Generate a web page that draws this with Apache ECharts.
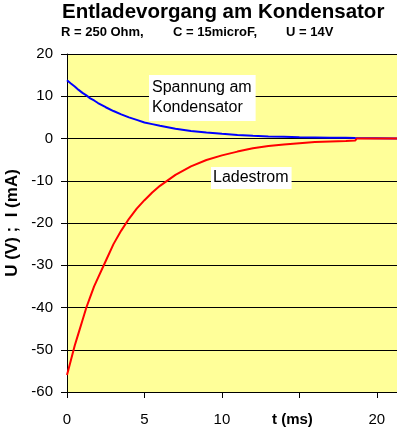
<!DOCTYPE html>
<html>
<head>
<meta charset="utf-8">
<style>
  html, body { margin: 0; padding: 0; background: #ffffff; }
  #chart { width: 397px; height: 433px; }
</style>
<script src="https://cdn.jsdelivr.net/npm/echarts@6/dist/echarts.min.js"></script>
</head>
<body>
<div id="chart"></div>
<script>
// Data
const times    = [0, 0.25, 0.5, 0.75, 1, 1.25, 1.5, 1.75, 2, 2.5, 3, 3.5, 4, 4.5, 5, 5.5, 6, 7, 8, 9, 10, 11, 12, 13, 14, 15, 16, 17, 18, 18.6, 18.7, 21.3];
const voltage  = [13.8, 13.0, 12.3, 11.5, 10.8, 10.2, 9.5, 9.0, 8.4, 7.4, 6.5, 5.7, 5.0, 4.4, 3.8, 3.4, 3.0, 2.3, 1.8, 1.4, 1.1, 0.85, 0.65, 0.5, 0.4, 0.3, 0.25, 0.2, 0.15, 0.1, 0, 0];
const current  = [-56, -52.5, -49, -46, -43, -40, -37.5, -35, -33, -29, -25, -21.8, -19, -16.6, -14.6, -12.8, -11.2, -8.6, -6.6, -5.1, -4.0, -3.1, -2.3, -1.8, -1.4, -1.1, -0.8, -0.7, -0.6, -0.5, 0, 0];
const xTicks   = [0, 5, 10, 15, 20];
const xTickLabels = ['0', '5', '10', 't (ms)', '20'];

const FONT = '"Liberation Sans", Arial, sans-serif';

const chart = echarts.init(document.getElementById('chart'), null, { renderer: 'canvas' });

const option = {
  backgroundColor: '#ffffff',
  animation: false,
  title: [
    {
      text: 'Spannung am\nKondensator',
      left: 149, top: 75,
      backgroundColor: '#ffffff',
      padding: [3, 4, 3, 3],
      textStyle: { fontFamily: FONT, fontSize: 16, fontWeight: 'normal', color: '#000', lineHeight: 20 }
    },
    {
      text: 'Ladestrom',
      left: 211, top: 167,
      backgroundColor: '#ffffff',
      padding: [1, 3, 1, 2],
      textStyle: { fontFamily: FONT, fontSize: 16, fontWeight: 'normal', color: '#000', lineHeight: 20 }
    }
  ],
  graphic: [
    { type: 'text', left: 62, top: 2, style: { text: 'Entladevorgang am Kondensator', font: 'bold 20.5px ' + FONT, fill: '#000' } },
    { type: 'text', left: 61, top: 26, style: { text: 'R = 250 Ohm,', font: 'bold 13px ' + FONT, fill: '#000' } },
    { type: 'text', left: 173, top: 26, style: { text: 'C = 15microF,', font: 'bold 13px ' + FONT, fill: '#000' } },
    { type: 'text', left: 286, top: 26, style: { text: 'U = 14V', font: 'bold 13px ' + FONT, fill: '#000' } }
  ],
  grid: {
    left: 67, top: 54, right: 0, bottom: 41,
    containLabel: false,
    outerBoundsMode: 'none',
    show: true,
    backgroundColor: '#FFFF99',
    borderWidth: 0
  },
  xAxis: {
    type: 'value',
    min: 0, max: 21.3,
    interval: 5,
    axisLine: { show: true, onZero: false, lineStyle: { color: '#000', width: 1 } },
    axisTick: { show: true, inside: false, length: 6, customValues: xTicks, lineStyle: { color: '#000' } },
    axisLabel: {
      show: true, margin: 20, customValues: xTicks,
      fontFamily: FONT, fontSize: 15, color: '#000',
      formatter: function (v) {
        const i = xTicks.indexOf(v);
        if (i < 0) return '';
        return xTickLabels[i] === 't (ms)' ? '{b|t (ms)}' : xTickLabels[i];
      },
      rich: { b: { fontFamily: FONT, fontSize: 15, fontWeight: 'bold', color: '#000', padding: [0, 14, 0, 0] } }
    },
    splitLine: { show: false }
  },
  yAxis: {
    type: 'value',
    min: -60, max: 20, interval: 10,
    name: 'U (V) ;  I (mA)',
    nameLocation: 'middle',
    nameRotate: 90,
    nameGap: 46,
    nameTextStyle: { fontFamily: FONT, fontSize: 17, fontWeight: 'bold', color: '#000' },
    axisLine: { show: true, onZero: false, lineStyle: { color: '#000', width: 1 } },
    axisTick: { show: true, inside: false, length: 6, lineStyle: { color: '#000' } },
    axisLabel: { show: true, margin: 14, fontFamily: FONT, fontSize: 15, color: '#000' },
    splitLine: { show: true, lineStyle: { color: '#000', width: 1, type: 'solid' } }
  },
  series: [
    {
      name: 'Spannung am Kondensator',
      type: 'line',
      data: times.map((t, i) => [t, voltage[i]]),
      showSymbol: false,
      symbol: 'none',
      smooth: false,
      lineStyle: { color: '#0000FF', width: 2 },
      itemStyle: { color: '#0000FF' },
      z: 3
    },
    {
      name: 'Ladestrom',
      type: 'line',
      data: times.map((t, i) => [t, current[i]]),
      showSymbol: false,
      symbol: 'none',
      smooth: false,
      lineStyle: { color: '#FF0000', width: 2 },
      itemStyle: { color: '#FF0000' },
      z: 4
    }
  ]
};

chart.setOption(option);
</script>
</body>
</html>
